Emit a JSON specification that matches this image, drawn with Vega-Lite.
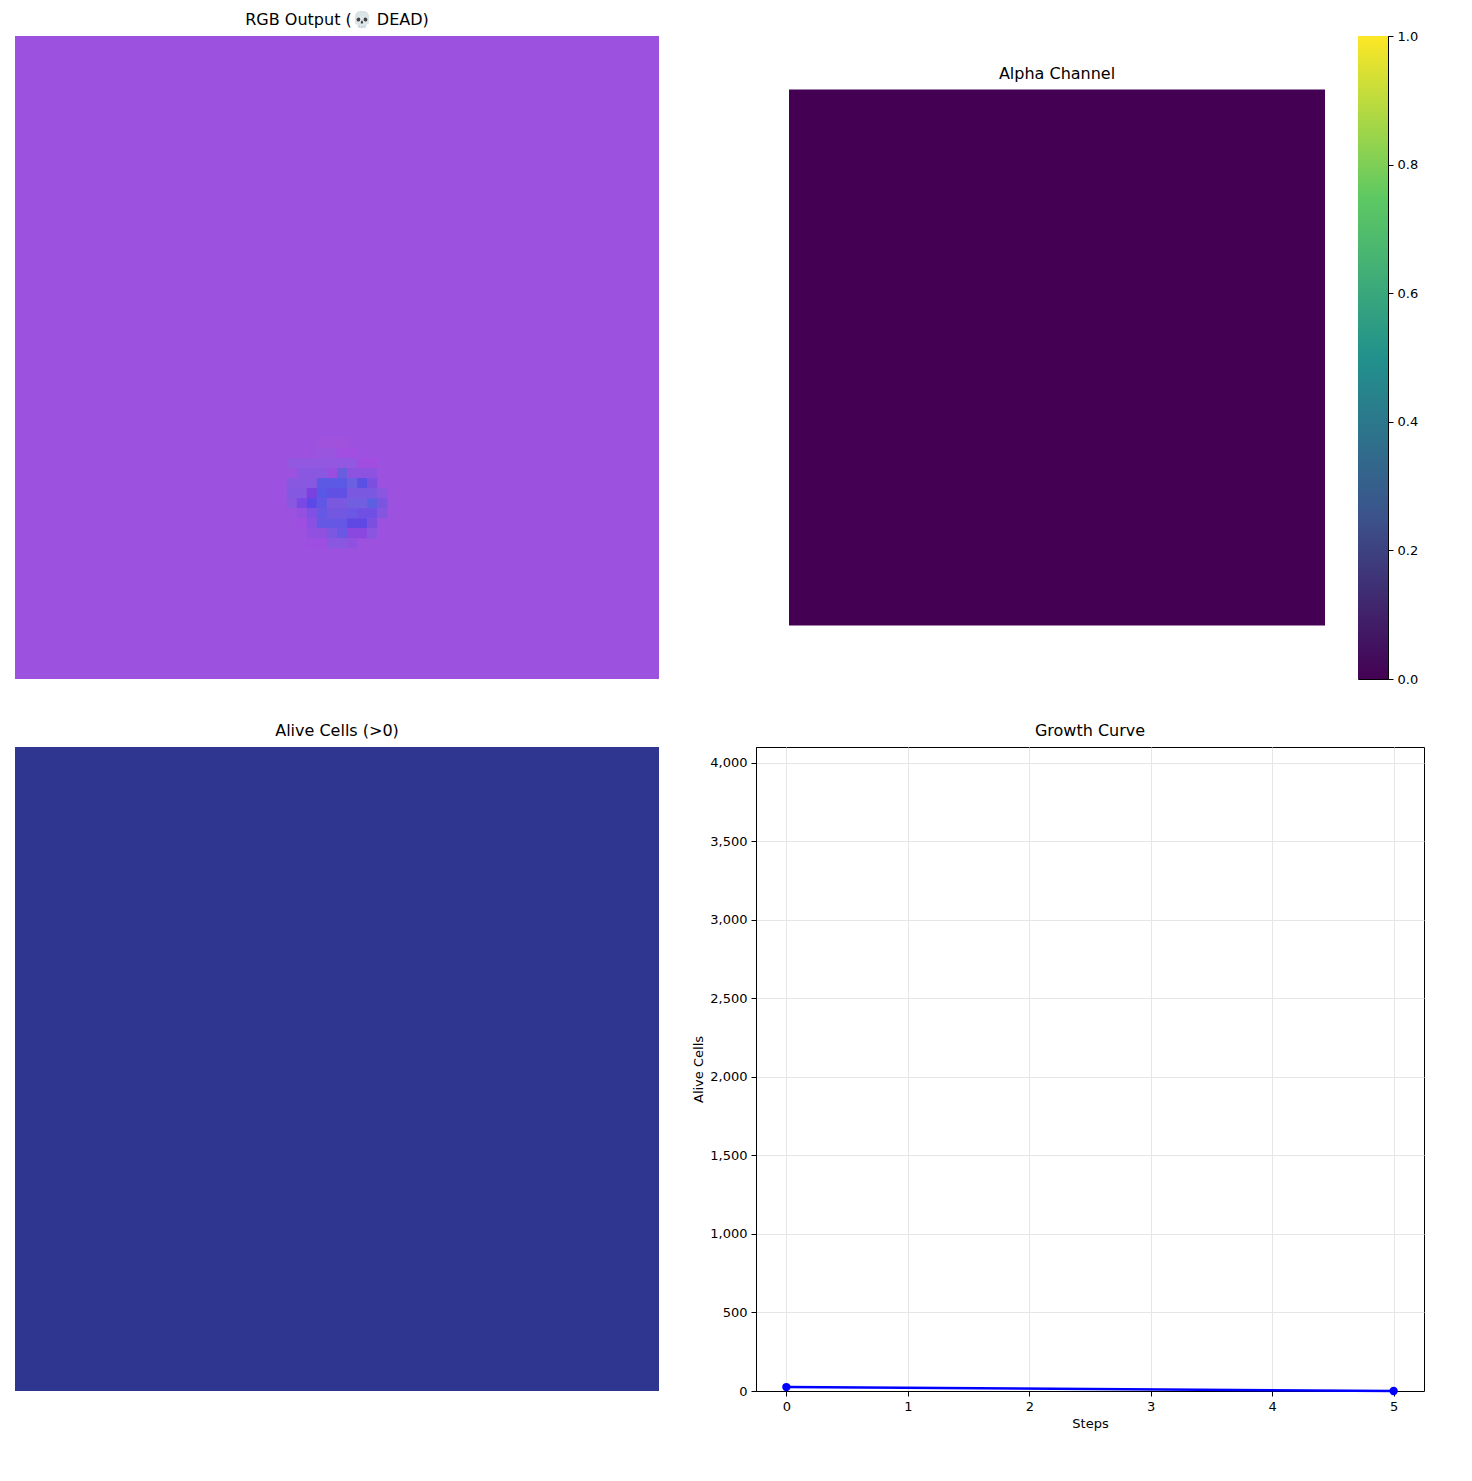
{
  "$schema": "https://vega.github.io/schema/vega-lite/v6.json",
  "padding": {"left": 15, "top": 12, "right": 10, "bottom": 5},
  "background": "white",
  "datasets": {
    "rgb": [
      {"c0": 0, "c1": 64, "r0": 0, "r1": 64, "color": "#9d52df"},
      {"c0": 30, "c1": 33, "r0": 40, "r1": 41, "color": "#a052dc"},
      {"c0": 30, "c1": 32, "r0": 41, "r1": 42, "color": "#9a55de"},
      {"c0": 32, "c1": 34, "r0": 41, "r1": 42, "color": "#a24ee0"},
      {"c0": 27, "c1": 34, "r0": 42, "r1": 43, "color": "#9258e0"},
      {"c0": 34, "c1": 36, "r0": 42, "r1": 43, "color": "#a24ce0"},
      {"c0": 28, "c1": 31, "r0": 43, "r1": 44, "color": "#8a58e0"},
      {"c0": 31, "c1": 32, "r0": 43, "r1": 44, "color": "#9a4ee0"},
      {"c0": 32, "c1": 33, "r0": 43, "r1": 44, "color": "#6a5ee0"},
      {"c0": 33, "c1": 36, "r0": 43, "r1": 44, "color": "#8e52e0"},
      {"c0": 27, "c1": 30, "r0": 44, "r1": 45, "color": "#8858e0"},
      {"c0": 30, "c1": 33, "r0": 44, "r1": 45, "color": "#5c5ae4"},
      {"c0": 33, "c1": 34, "r0": 44, "r1": 45, "color": "#6a60e0"},
      {"c0": 34, "c1": 35, "r0": 44, "r1": 45, "color": "#5b50e4"},
      {"c0": 35, "c1": 36, "r0": 44, "r1": 45, "color": "#7a50e0"},
      {"c0": 27, "c1": 29, "r0": 45, "r1": 46, "color": "#8458e0"},
      {"c0": 29, "c1": 30, "r0": 45, "r1": 46, "color": "#7a40e0"},
      {"c0": 30, "c1": 31, "r0": 45, "r1": 46, "color": "#5858e6"},
      {"c0": 31, "c1": 33, "r0": 45, "r1": 46, "color": "#6050e4"},
      {"c0": 33, "c1": 36, "r0": 45, "r1": 46, "color": "#7a58e0"},
      {"c0": 36, "c1": 37, "r0": 45, "r1": 46, "color": "#8a58e0"},
      {"c0": 27, "c1": 28, "r0": 46, "r1": 47, "color": "#8a58e0"},
      {"c0": 28, "c1": 29, "r0": 46, "r1": 47, "color": "#7a48e4"},
      {"c0": 29, "c1": 30, "r0": 46, "r1": 47, "color": "#5a48e8"},
      {"c0": 30, "c1": 31, "r0": 46, "r1": 47, "color": "#6058e4"},
      {"c0": 31, "c1": 33, "r0": 46, "r1": 47, "color": "#7a58e0"},
      {"c0": 33, "c1": 35, "r0": 46, "r1": 47, "color": "#7060e0"},
      {"c0": 35, "c1": 36, "r0": 46, "r1": 47, "color": "#5c60e0"},
      {"c0": 36, "c1": 37, "r0": 46, "r1": 47, "color": "#7a55e0"},
      {"c0": 28, "c1": 29, "r0": 47, "r1": 48, "color": "#9450e0"},
      {"c0": 29, "c1": 30, "r0": 47, "r1": 48, "color": "#8050e4"},
      {"c0": 30, "c1": 31, "r0": 47, "r1": 48, "color": "#6458e4"},
      {"c0": 31, "c1": 33, "r0": 47, "r1": 48, "color": "#7258e0"},
      {"c0": 33, "c1": 34, "r0": 47, "r1": 48, "color": "#6a58e4"},
      {"c0": 34, "c1": 36, "r0": 47, "r1": 48, "color": "#7050e4"},
      {"c0": 36, "c1": 37, "r0": 47, "r1": 48, "color": "#8456e0"},
      {"c0": 28, "c1": 29, "r0": 48, "r1": 49, "color": "#a04ee0"},
      {"c0": 29, "c1": 30, "r0": 48, "r1": 49, "color": "#8a50e4"},
      {"c0": 30, "c1": 33, "r0": 48, "r1": 49, "color": "#6458e4"},
      {"c0": 33, "c1": 35, "r0": 48, "r1": 49, "color": "#6048e4"},
      {"c0": 35, "c1": 36, "r0": 48, "r1": 49, "color": "#7a50e0"},
      {"c0": 29, "c1": 31, "r0": 49, "r1": 50, "color": "#9050e0"},
      {"c0": 31, "c1": 32, "r0": 49, "r1": 50, "color": "#7a58e0"},
      {"c0": 32, "c1": 33, "r0": 49, "r1": 50, "color": "#6a58e4"},
      {"c0": 33, "c1": 35, "r0": 49, "r1": 50, "color": "#8a48e0"},
      {"c0": 35, "c1": 36, "r0": 49, "r1": 50, "color": "#8a55e0"},
      {"c0": 29, "c1": 31, "r0": 50, "r1": 51, "color": "#9e4ee0"},
      {"c0": 31, "c1": 33, "r0": 50, "r1": 51, "color": "#8a58e0"},
      {"c0": 33, "c1": 34, "r0": 50, "r1": 51, "color": "#9050e0"}
    ],
    "alpha": [{"c0": 0, "c1": 64, "r0": 0, "r1": 64, "color": "#440154"}],
    "alive": [{"c0": 0, "c1": 64, "r0": 0, "r1": 64, "color": "#2f3690"}],
    "cbar": [{"lo": 0, "hi": 1}],
    "growth": [{"step": 0, "alive": 25}, {"step": 5, "alive": 0}]
  },
  "vconcat": [
    {
      "hconcat": [
        {
          "title": "RGB Output (💀 DEAD)",
          "width": 644, "height": 643,
          "data": {"name": "rgb"},
          "mark": {"type": "rect", "strokeWidth": 0},
          "encoding": {
            "x": {"field": "c0", "type": "quantitative", "scale": {"domain": [0, 64], "nice": false}, "axis": null},
            "x2": {"field": "c1"},
            "y": {"field": "r0", "type": "quantitative", "scale": {"domain": [0, 64], "nice": false, "reverse": true}, "axis": null},
            "y2": {"field": "r1"},
            "color": {"field": "color", "type": "nominal", "scale": null}
          }
        },
        {
          "spacing": 32,
          "hconcat": [
            {
              "title": {"text": "Alpha Channel", "offset": -46},
              "width": 536, "height": 643,
              "data": {"name": "alpha"},
              "mark": {"type": "rect", "strokeWidth": 0},
              "encoding": {
                "x": {"field": "c0", "type": "quantitative", "scale": {"domain": [0, 64], "nice": false}, "axis": null},
                "x2": {"field": "c1"},
                "y": {"field": "r0", "type": "quantitative", "scale": {"domain": [-6.39, 70.39], "nice": false, "reverse": true}, "axis": null},
                "y2": {"field": "r1"},
                "color": {"field": "color", "type": "nominal", "scale": null}
              }
            },
            {
              "width": 30, "height": 643,
              "view": {"stroke": "black", "strokeWidth": 1},
              "data": {"name": "cbar"},
              "mark": {
                "type": "rect",
                "color": {
                  "gradient": "linear", "x1": 0, "y1": 1, "x2": 0, "y2": 0,
                  "stops": [
                    {"offset": 0, "color": "#440154"},
                    {"offset": 0.25, "color": "#3b528b"},
                    {"offset": 0.5, "color": "#21918c"},
                    {"offset": 0.75, "color": "#5ec962"},
                    {"offset": 1, "color": "#fde725"}
                  ]
                }
              },
              "encoding": {
                "y": {"field": "lo", "type": "quantitative", "scale": {"domain": [0, 1], "nice": false},
                  "axis": {"orient": "right", "values": [0, 0.2, 0.4, 0.6, 0.8, 1], "format": ".1f", "title": null, "grid": false, "domain": false}},
                "y2": {"field": "hi"}
              }
            }
          ]
        }
      ],
      "spacing": 130
    },
    {
      "spacing": 33,
      "hconcat": [
        {
          "title": "Alive Cells (>0)",
          "width": 644, "height": 644,
          "data": {"name": "alive"},
          "mark": {"type": "rect", "strokeWidth": 0},
          "encoding": {
            "x": {"field": "c0", "type": "quantitative", "scale": {"domain": [0, 64], "nice": false}, "axis": null},
            "x2": {"field": "c1"},
            "y": {"field": "r0", "type": "quantitative", "scale": {"domain": [0, 64], "nice": false, "reverse": true}, "axis": null},
            "y2": {"field": "r1"},
            "color": {"field": "color", "type": "nominal", "scale": null}
          }
        },
        {
          "title": "Growth Curve",
          "width": 668, "height": 644,
          "view": {"stroke": "black", "strokeWidth": 1},
          "data": {"name": "growth"},
          "mark": {"type": "line", "color": "#0000ff", "strokeWidth": 2.5, "point": {"filled": true, "size": 70, "color": "#0000ff"}},
          "encoding": {
            "x": {"field": "step", "type": "quantitative", "scale": {"domain": [-0.25, 5.25], "nice": false, "zero": false},
              "axis": {"values": [0, 1, 2, 3, 4, 5], "title": "Steps", "gridColor": "#e6e6e6"}},
            "y": {"field": "alive", "type": "quantitative", "scale": {"domain": [0, 4100], "nice": false},
              "axis": {"values": [0, 500, 1000, 1500, 2000, 2500, 3000, 3500, 4000], "title": "Alive Cells", "gridColor": "#e6e6e6"}}
          }
        }
      ]
    }
  ],
  "spacing": 35,
  "config": {
    "font": "DejaVu Sans",
    "view": {"stroke": null},
    "title": {"fontSize": 16, "fontWeight": "normal", "color": "black", "offset": 8},
    "axis": {
      "labelFontSize": 13, "labelColor": "black", "titleFontSize": 13, "titleFontWeight": "normal", "titleColor": "black",
      "tickColor": "black", "domainColor": "black", "tickSize": 5, "labelPadding": 4
    }
  }
}
